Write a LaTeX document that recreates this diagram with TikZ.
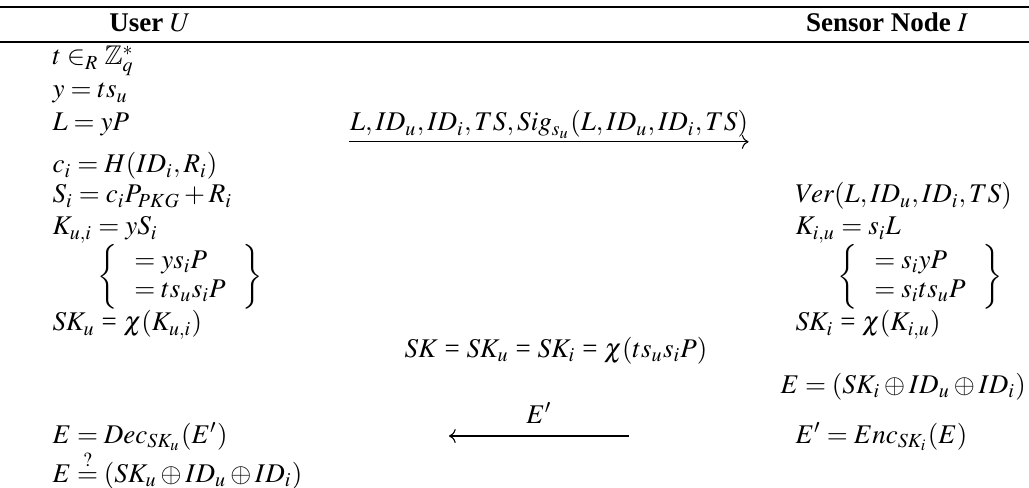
\documentclass[tikz,border=0pt]{standalone}
\usepackage{mathptmx}
\usepackage{amssymb}
\usepackage{amsmath}
\usepackage{fontspec}
\setmainfont{Liberation Serif}
\usepackage{tikz}
\usetikzlibrary{arrows.meta, positioning, calc}

\begin{document}
\begin{tikzpicture}[x=0.3704pt,y=-0.3704pt,
    linha/.style={anchor=base west,inner sep=0pt},
    centro/.style={anchor=base,inner sep=0pt},
    chave/.style={anchor=west,inner sep=0pt},
    seta/.style={-{Computer Modern Rightarrow},line width=0.4pt}]
  \useasboundingbox (0,0) rectangle (1029,488);

  % cabecalho da tabela
  \draw[line width=0.75pt] (0,7) -- (1029,7);
  \draw[line width=0.75pt] (0,42) -- (1029,42);
  \node[centro] (hu) at (150,32) {\textbf{User} $U$};
  \node[centro] (hi) at (887,32) {\textbf{Sensor Node} $I$};

  % coluna do usuario
  \foreach \nm/\yy/\eq in {u1/65/{$t \in_R \mathbb{Z}_q^*$}, u2/98/{$y = ts_u$},
      u3/131/{$L = yP$}, u4/173/{$c_i = H(ID_i,R_i)$}, u5/203/{$S_i = c_iP_{PKG} + R_i$},
      u6/235/{$K_{u,i} = yS_i$}, u7/331/{$SK_u$ = $\chi(K_{u,i})$},
      u8/443/{$E = Dec_{SK_u}(E')$}, u9/482/{$E \stackrel{?}{=} (SK_u \oplus ID_u \oplus ID_i)$}}
    \node[linha] (\nm) at (52,\yy) {\eq};
  \node[chave] (u10) at (97,277)
    {\def\arraystretch{0.9}$\left\{\,\begin{array}{l} = ys_iP\\ = ts_us_iP \end{array}\,\right\}$};

  % coluna do sensor
  \foreach \nm/\yy/\eq in {s1/203/{$Ver(L,ID_u,ID_i,TS)$}, s2/235/{$K_{i,u} = s_iL$},
      s4/331/{$SK_i$ = $\chi(K_{i,u})$}, s6/443/{$E' = Enc_{SK_i}(E)$}}
    \node[linha] (\nm) at (795,\yy) {\eq};
  \node[chave] (s3) at (837,277)
    {\def\arraystretch{0.9}$\left\{\,\begin{array}{l} = s_iyP\\ = s_its_uP \end{array}\,\right\}$};
  \node[linha] (s5) at (780,393) {$E = (SK_i \oplus ID_u \oplus ID_i)$};

  % mensagens trocadas
  \node[centro] (m1) at (549,131) {$L,ID_u,ID_i,TS,Sig_{s_u}(L,ID_u,ID_i,TS)$};
  \coordinate (a1) at ([yshift=-4pt]m1.base west);
  \coordinate (a2) at ([yshift=-4pt]m1.base east);
  \draw[seta] (a1) -- (a2);
  \node[centro] (k) at (556,357) {$SK$ = $SK_u$ = $SK_i$ = $\chi(ts_us_iP)$};
  \node[centro] (m2) at (539,423) {$E'$};
  \coordinate (b1) at (629,436);
  \coordinate (b2) at (449,436);
  \draw[seta] (b1) -- (b2);
\end{tikzpicture}
\end{document}
